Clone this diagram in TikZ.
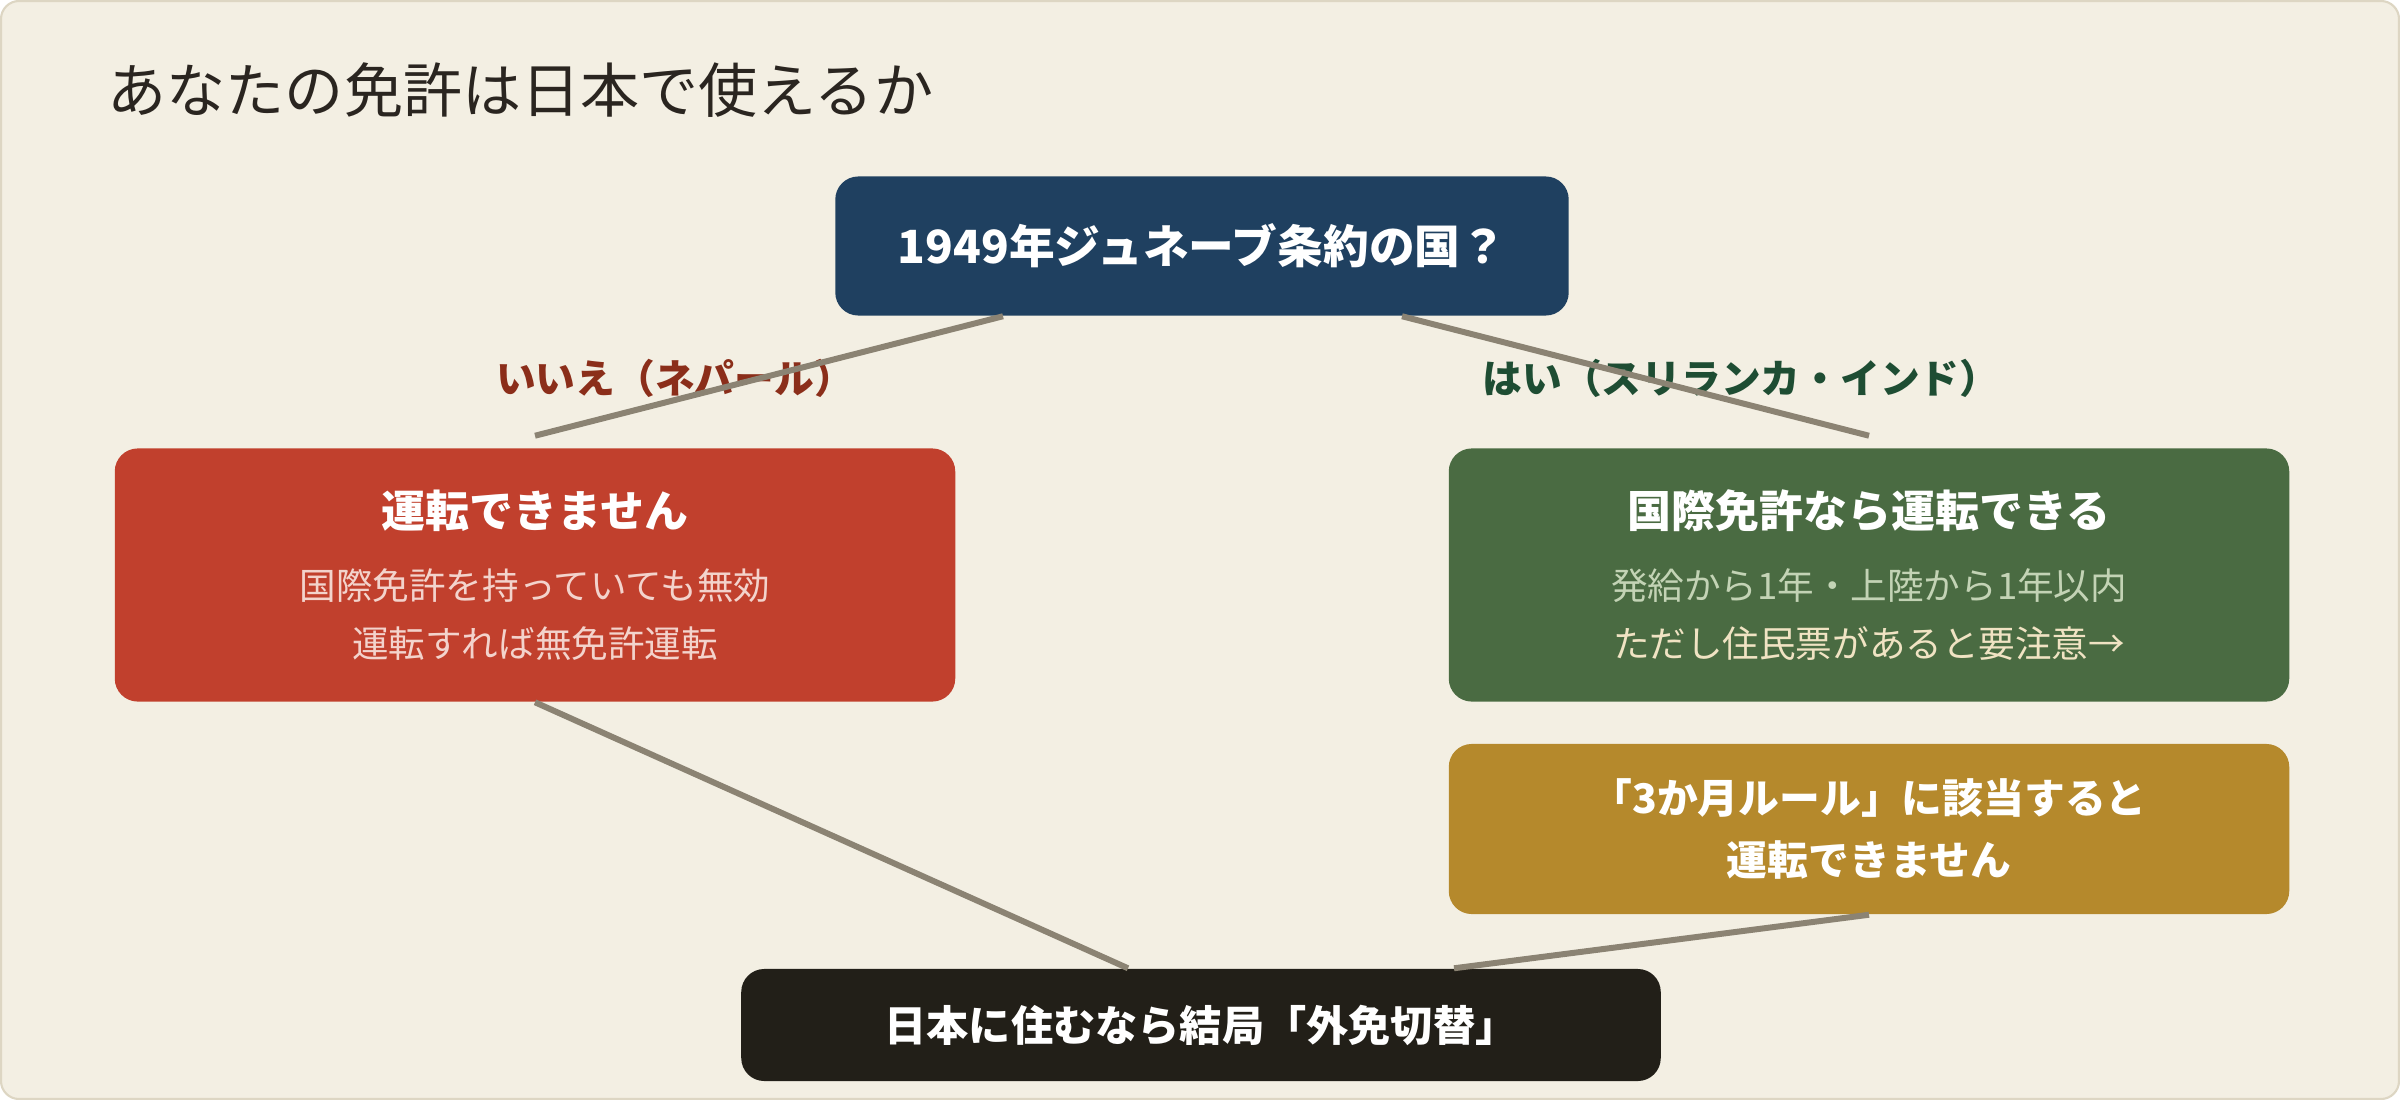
\documentclass[tikz,border=0pt]{standalone}
\usepackage{fontspec}
\usetikzlibrary{calc}
\newfontfamily\jpfont{Noto Sans CJK JP}
\definecolor{paper}{HTML}{F3EFE3}
\definecolor{paperedge}{HTML}{DDD6C3}
\definecolor{ink}{HTML}{2A2520}
\definecolor{navy}{HTML}{1F4060}
\definecolor{brick}{HTML}{C1402D}
\definecolor{moss}{HTML}{4A6B42}
\definecolor{ochre}{HTML}{B5892C}
\definecolor{soot}{HTML}{221F18}
\definecolor{linkgrey}{HTML}{8B8373}
\definecolor{nored}{HTML}{8B2E1A}
\definecolor{yesgreen}{HTML}{1E4D33}
\definecolor{pinknote}{HTML}{F3D3CC}
\definecolor{sagenote}{HTML}{C3D3B5}
\definecolor{creamnote}{HTML}{F0E3C3}
\newcommand{\boxhead}{\bfseries\fontsize{12.5}{15}\selectfont}

\begin{document}
\begin{tikzpicture}[x=0.01cm, y=-0.01cm,
	box/.style = {rounded corners=0.23cm, align=center, text=white, inner sep=0pt, font=\jpfont},
	link/.style = {draw=linkgrey, line width=1.7pt},
	branch/.style = {font=\jpfont\bfseries\fontsize{11.3}{13}\selectfont}]
	\useasboundingbox (0,0) rectangle (2400,1100);
	\fill[paper, draw=paperedge, line width=0.6pt, rounded corners=0.18cm] (1,1) rectangle (2399,1099);
	\node[anchor=west, inner sep=0pt, text=ink, font=\jpfont\fontsize{16.8}{20}\selectfont] (heading) at (107,90) {あなたの免許は日本で使えるか};
	% question and the two answers
	\node[box, fill=navy, minimum width=7.33cm, minimum height=1.39cm, font=\jpfont\bfseries\fontsize{13}{15}\selectfont] (question) at (1202,246) {1949年ジュネーブ条約の国？};
	\node[box, fill=brick, minimum width=8.4cm, minimum height=2.53cm, font=\jpfont\fontsize{10.4}{16.5}\selectfont] (nodrive) at (535,575)
		{{\boxhead 運転できません}\\[4pt] \textcolor{pinknote}{国際免許を持っていても無効}\\ \textcolor{pinknote}{運転すれば無免許運転}};
	\node[box, fill=moss, minimum width=8.4cm, minimum height=2.53cm, font=\jpfont\fontsize{10.4}{16.5}\selectfont] (permit) at (1869,575)
		{{\boxhead 国際免許なら運転できる}\\[4pt] \textcolor{sagenote}{発給から1年・上陸から1年以内}\\ \textcolor{creamnote}{ただし住民票があると要注意→}};
	\node[box, fill=ochre, minimum width=8.4cm, minimum height=1.70cm, font=\jpfont\bfseries\fontsize{11.6}{17.6}\selectfont] (threemonth) at (1869,829)
		{「3か月ルール」に該当すると\\運転できません};
	\node[box, fill=soot, minimum width=9.19cm, minimum height=1.12cm, font=\jpfont\bfseries\fontsize{12}{14}\selectfont] (convert) at (1201,1025) {日本に住むなら結局「外免切替」};
	% branch labels
	\node[branch, text=nored] (nolabel) at (675,378) {いいえ（ネパール）};
	\node[branch, text=yesgreen] (yeslabel) at (1741,378) {はい（スリランカ・インド）};
	% connectors
	\draw[link] ($(question.south)+(-199,0)$) -- ($(nodrive.north)+(0,-12)$);
	\draw[link] ($(question.south)+(200,0)$) -- ($(permit.north)+(0,-12)$);
	\draw[link] (nodrive.south) -- ($(convert.north)+(-73,0)$);
	\draw[link] (threemonth.south) -- ($(convert.north)+(253,0)$);
\end{tikzpicture}
\end{document}
